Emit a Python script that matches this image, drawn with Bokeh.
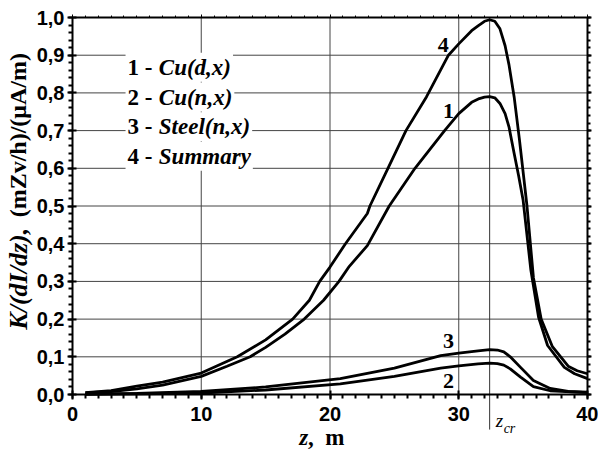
import math
from bokeh.plotting import figure
from bokeh.models import (FixedTicker, LinearAxis, Label, Range1d)
from bokeh.embed import file_html
from bokeh.resources import INLINE

# ---- data ----
z1 = [1, 3, 5, 7, 10, 12, 13.8, 15, 16.5, 18, 19.5, 20.7, 21.5, 22.9, 24.6, 26.6, 28.9, 30,
      31, 31.6, 32.0, 32.4, 32.8, 33.2, 33.6, 33.9, 34.3, 34.65, 35.0, 35.6, 36.2, 36.9,
      38.2, 39, 40]
k1 = [0.004, 0.008, 0.015, 0.025, 0.048, 0.075, 0.1, 0.125, 0.16, 0.2, 0.25, 0.3, 0.34, 0.395,
      0.5, 0.6, 0.7, 0.745, 0.775, 0.785, 0.789, 0.79, 0.787, 0.772, 0.745, 0.71, 0.64,
      0.58, 0.515, 0.33, 0.205, 0.13, 0.072, 0.055, 0.042]

z4 = [1, 3, 5, 7, 10, 12.8, 15, 17.1, 18.4, 19.2, 20, 21.2, 22.9, 23.1, 24.5, 25.9, 27.5,
      29.2, 30, 31, 31.5, 32.0, 32.4, 32.8, 33.2, 33.6, 33.9, 34.3, 34.7, 35.3, 35.8, 36.4,
      37.26, 38.5, 39.2, 40]
k4 = [0.005, 0.01, 0.022, 0.033, 0.057, 0.1, 0.145, 0.2, 0.25, 0.3, 0.338, 0.4, 0.48, 0.5,
      0.6, 0.7, 0.79, 0.9, 0.93, 0.965, 0.978, 0.99, 0.994, 0.99, 0.97, 0.925, 0.875, 0.79,
      0.68, 0.5, 0.31, 0.2, 0.128, 0.075, 0.063, 0.055]

z3 = [1, 5, 10, 15, 20.8, 25, 28.6, 30, 31.5, 32.4, 33.0, 33.5, 34.0, 34.8, 35.8, 37.1, 38.5, 40]
k3 = [0.001, 0.003, 0.008, 0.02, 0.042, 0.07, 0.103, 0.11, 0.116, 0.119, 0.118, 0.113, 0.1,
      0.072, 0.037, 0.016, 0.008, 0.006]

z2 = [1, 5, 10, 15, 20.8, 25, 28.6, 30, 31.5, 32.4, 33.0, 33.5, 34.0, 34.8, 35.8, 37.1, 40]
k2 = [0.0005, 0.002, 0.004, 0.012, 0.028, 0.048, 0.07, 0.076, 0.081, 0.083, 0.082, 0.078,
      0.068, 0.046, 0.021, 0.01, 0.005]

x_ticks = [0, 10, 20, 30, 40]
y_ticks = [0.0, 0.1, 0.2, 0.3, 0.4, 0.5, 0.6, 0.7, 0.8, 0.9, 1.0]
y_tick_labels = ["0,0", "0,1", "0,2", "0,3", "0,4", "0,5", "0,6", "0,7", "0,8", "0,9", "1,0"]
z_cr = 32.4
X_MIN, X_MAX = 0, 40
Y_MIN, Y_MAX = 0.0, 1.0

curve_labels = [("4", 28.8, 0.926), ("1", 29.2, 0.753), ("3", 29.2, 0.143), ("2", 29.2, 0.037)]
legend_nums = ["1 -\u00a0", "2 -\u00a0", "3 -\u00a0", "4 -\u00a0"]
legend_names = ["Cu(d,x)", "Cu(n,x)", "Steel(n,x)", "Summary"]

SERIF = "Liberation Serif"
SANS = "Liberation Sans"

# frame spans the whole canvas; axes are pinned at the data box edges
p = figure(width=598, height=450, x_range=Range1d(-5.592, 40.854),
           y_range=Range1d(-0.1485, 1.0451),
           output_backend="svg", toolbar_location=None,
           min_border_left=0, min_border_right=0, min_border_top=0, min_border_bottom=0)
p.outline_line_color = None
p.xgrid.visible = False
p.ygrid.visible = False

x_minor = list(range(X_MIN, X_MAX + 1))
y_minor = [i / 50 for i in range(51)]

xa = p.xaxis[0]
ya = p.yaxis[0]
xa.fixed_location = Y_MIN
xa.bounds = (X_MIN, X_MAX)
ya.fixed_location = X_MIN
ya.bounds = (Y_MIN, Y_MAX)
for ax in (xa, ya):
    ax.axis_line_width = 2
    ax.major_tick_line_width = 2
    ax.minor_tick_line_width = 2
    ax.major_tick_in = 4
    ax.major_tick_out = 5
    ax.minor_tick_in = 0
    ax.minor_tick_out = 4
    ax.major_label_text_font = SANS
    ax.major_label_text_font_style = "bold"
    ax.major_label_text_font_size = "20px"
    ax.major_label_text_color = "black"
xa.ticker = FixedTicker(ticks=x_ticks, minor_ticks=x_minor)
ya.ticker = FixedTicker(ticks=y_ticks, minor_ticks=y_minor)
ya.major_label_overrides = {v: s for v, s in zip(y_ticks, y_tick_labels)}
xa.major_label_standoff = 7
ya.major_label_standoff = 3

ra = LinearAxis(ticker=FixedTicker(ticks=y_ticks, minor_ticks=y_minor),
                fixed_location=X_MAX, bounds=(Y_MIN, Y_MAX),
                major_label_text_font_size="0px", major_label_standoff=0,
                axis_line_width=2, major_tick_line_width=2, minor_tick_line_width=2,
                major_tick_in=0, major_tick_out=4, minor_tick_in=0, minor_tick_out=3)
p.add_layout(ra, "right")
ta = LinearAxis(ticker=FixedTicker(ticks=x_ticks, minor_ticks=x_minor),
                fixed_location=Y_MAX, bounds=(X_MIN, X_MAX),
                major_label_text_font_size="0px", major_label_standoff=0,
                axis_line_width=2, major_tick_line_width=1, minor_tick_line_width=1,
                major_tick_in=0, major_tick_out=3, minor_tick_in=0, minor_tick_out=2)
p.add_layout(ta, "above")

# grid lines (limited to the data box), z_cr line runs below the axis
grid_x = [10, 20, 30]
grid_y = y_ticks[1:-1]
p.segment(x0=grid_x, y0=[Y_MIN] * len(grid_x), x1=grid_x, y1=[Y_MAX] * len(grid_x),
          line_color="#444444", line_width=1)
p.segment(x0=[X_MIN] * len(grid_y), y0=grid_y, x1=[X_MAX] * len(grid_y), y1=grid_y,
          line_color="#444444", line_width=1)
p.segment(x0=[z_cr], y0=[-0.093], x1=[z_cr], y1=[Y_MAX], line_color="#333333", line_width=1)

# curves
for zz, kk in ((z4, k4), (z1, k1), (z3, k3), (z2, k2)):
    p.line(zz, kk, line_color="black", line_width=2.8)

# z_cr text
p.add_layout(Label(x=z_cr, y=-0.069, x_offset=6, text="z", text_font=SERIF,
                   text_font_style="italic", text_font_size="19px", text_color="black",
                   text_baseline="middle", text_align="left"))
p.add_layout(Label(x=z_cr, y=-0.09, x_offset=14, text="cr", text_font=SERIF,
                   text_font_style="italic", text_font_size="14px", text_color="black",
                   text_baseline="middle", text_align="left"))

# curve number labels
for t, xx, yy in curve_labels:
    p.add_layout(Label(x=xx, y=yy, text=t, text_font=SERIF, text_font_style="bold",
                       text_color="black",
                       text_font_size="22px", text_align="center", text_baseline="middle"))

# legend text block
rows_y = [0.868, 0.789, 0.710, 0.632]
for num, name, yy in zip(legend_nums, legend_names, rows_y):
    p.add_layout(Label(x=4.12, y=yy, text=num, text_font=SERIF, text_font_style="bold",
                       text_font_size="23px", text_baseline="middle", text_align="left",
                       text_color="black", background_fill_color="white", padding=2))
    p.add_layout(Label(x=6.55, y=yy, text=name, text_font=SERIF,
                       text_font_style="bold italic", text_font_size="23px",
                       text_color="black",
                       text_baseline="middle", text_align="left",
                       background_fill_color="white", padding=2))

# x axis title
p.add_layout(Label(x=18.3, y=-0.114, text="z", text_font=SERIF, text_font_style="bold italic",
                   text_color="black",
                   text_font_size="23px", text_baseline="middle", text_align="right"))
p.add_layout(Label(x=18.3, y=-0.114, text=",\u00a0\u00a0m", text_font=SERIF,
                   text_font_style="bold", text_color="black",
                   text_font_size="23px", text_baseline="middle", text_align="left"))

# y axis title (rotated, two styles)
p.add_layout(Label(x=-4.2, y=0.172, text="K/(dI/dz),", text_font=SERIF,
                   text_font_style="bold italic", text_font_size="26px", angle=math.pi / 2,
                   text_color="black", text_baseline="middle", text_align="left"))
p.add_layout(Label(x=-4.2, y=0.47, text="(mZv/h)/(\u03bcA/m)", text_font=SERIF,
                   text_color="black",
                   text_font_style="bold", text_font_size="24px", angle=math.pi / 2,
                   text_baseline="middle", text_align="left"))

open("out.html", "w").write(file_html(p, INLINE))
